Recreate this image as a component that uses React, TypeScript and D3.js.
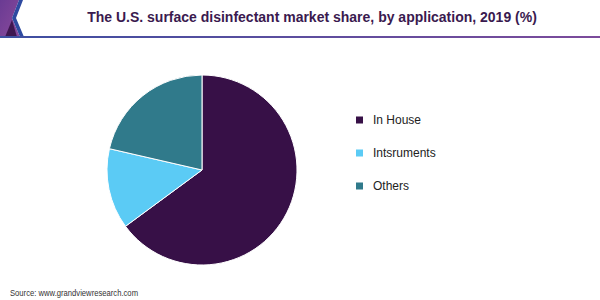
import React from "react";
import * as d3 from "d3";

const categories = ["In House", "Intsruments", "Others"];
const shares = [64.9, 13.7, 21.4];
const colors = ["#371047", "#5bcbf5", "#307a8b"];
const titleText = "The U.S. surface disinfectant market share, by application, 2019 (%)";
const sourceText = "Source: www.grandviewresearch.com";

export default function App() {
  const W = 600, H = 300;
  const cx = 202, cy = 170, r = 95;
  const pie = d3.pie<number>().sort(null).value((d) => d);
  const arcs = pie(shares);
  const arc = d3.arc<d3.PieArcDatum<number>>().innerRadius(0).outerRadius(r);
  const legendY = d3.scalePoint<string>().domain(categories).range([120, 186]);

  return (
    <svg width={W} height={H} style={{ position: "absolute", left: 0, top: 0, display: "block" }} fontFamily="'Liberation Sans', Arial, sans-serif">
      <defs>
        <linearGradient id="hdrLine" x1="0" x2="1" y1="0" y2="0">
          <stop offset="0" stopColor="#3d4fa1" />
          <stop offset="1" stopColor="#7c4b9b" />
        </linearGradient>
        <linearGradient id="hdrBlock" x1="0" x2="1" y1="0" y2="1">
          <stop offset="0" stopColor="#6a3b93" />
          <stop offset="1" stopColor="#8a4a9c" />
        </linearGradient>
      </defs>
      <rect x={0} y={0} width={W} height={H} fill="#fff" />
      {/* header decoration */}
      <polygon points="0,0 19,0 12,18 20,37 0,37" fill="url(#hdrBlock)" />
      <polygon points="5,37 12,20 17,37" fill="#3e1650" />
      <polygon points="19,0 23,0 16,18 24,37 20,37 12,18" fill="#2e4aa0" />
      <rect x={0} y={36} width={W} height={2} fill="url(#hdrLine)" />
      <text x={312} y={22} textAnchor="middle" fontSize={14} fontWeight="bold" fill="#3a1a4f">
        {titleText}
      </text>
      {/* pie */}
      <g transform={`translate(${cx},${cy})`}>
        {arcs.map((a, i) => (
          <path key={categories[i]} d={arc(a) || ""} fill={colors[i]} stroke="#fff" strokeWidth={1} />
        ))}
      </g>
      {/* legend */}
      {categories.map((c, i) => (
        <g key={c} transform={`translate(356,${legendY(c)})`}>
          <rect x={0} y={-3.5} width={7} height={7} fill={colors[i]} />
          <text x={17} y={4} fontSize={12} fill="#222">{c}</text>
        </g>
      ))}
      <text x={10} y={296} fontSize={9} fill="#333" textLength={128} lengthAdjust="spacingAndGlyphs">{sourceText}</text>
    </svg>
  );
}
